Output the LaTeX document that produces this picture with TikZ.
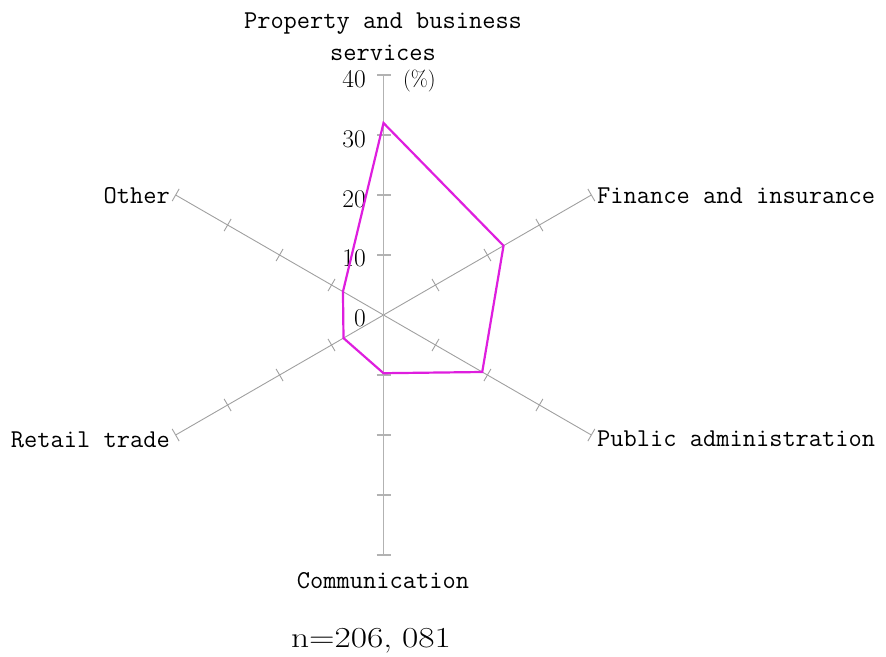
\documentclass[tikz,border=0pt]{standalone}
\usepackage{fontspec}
\setmainfont{Latin Modern Roman}
\newfontfamily\lblfont{Latin Modern Mono}
\newfontfamily\nfont[FakeStretch=1.22]{Latin Modern Roman}
\definecolor{series}{RGB}{222,30,222}
\definecolor{axisv}{RGB}{178,178,178}
\definecolor{axisd}{RGB}{160,160,160}
\begin{document}
\begin{tikzpicture}[x=1pt,y=-1pt,
  vaxis/.style={draw=axisv,line width=1.8pt},
  daxis/.style={draw=axisd,line width=0.9pt},
  tickmark/.style={draw=axisd,line width=0.9pt},
  lbl/.style={inner sep=0pt,font=\lblfont\fontsize{25.7}{30}\selectfont},
  ticklbl/.style={inner sep=0pt,anchor=base east,font=\fontsize{25.5}{29}\selectfont},
  serieslink/.style={draw=series,line width=2.2pt,line join=miter}]
\useasboundingbox (0,0) rectangle (886,656);
\coordinate (c) at (383.5,315);
% axis ends (angles in flipped y system)
\coordinate (aP) at ([shift={(c)}] -90:240);
\coordinate (aF) at ([shift={(c)}] -30:240);
\coordinate (aA) at ([shift={(c)}] 30:240);
\coordinate (aC) at ([shift={(c)}] 90:240);
\coordinate (aR) at ([shift={(c)}] 150:240);
\coordinate (aO) at ([shift={(c)}] -150:240);
% axes
\draw[daxis] (aF) -- (aR);
\draw[daxis] (aA) -- (aO);
\draw[vaxis] (aP) -- (aC);
% ticks
\foreach \a in {-90,90} {
  \foreach \k in {1,2,3,4} {
    \draw[tickmark,draw=axisv,line width=1.2pt] ([shift={(c)}] \a:\k*60) ++(\a+90:7) -- ++(\a-90:14);
  }
}
\foreach \a in {-30,30,150,-150} {
  \foreach \k in {1,2,3,4} {
    \draw[tickmark] ([shift={(c)}] \a:\k*60) ++(\a+90:7) -- ++(\a-90:14);
  }
}
% tick labels
\node[ticklbl] (t40) at (366,87) {40};
\node[ticklbl] (t30) at (366,147) {30};
\node[ticklbl] (t20) at (366,207) {20};
\node[ticklbl] (t10) at (366,266) {10};
\node[ticklbl] (t0) at (366,326) {0};
\node[inner sep=0pt,anchor=base west,font=\fontsize{22}{25}\selectfont] (pct) at (403,86) {(\%)};
% series
\coordinate (dP) at ([shift={(c)}] -90:192);
\coordinate (dF) at ([shift={(c)}] -30:138.6);
\coordinate (dA) at ([shift={(c)}] 30:114);
\coordinate (dC) at ([shift={(c)}] 90:58.2);
\coordinate (dR) at ([shift={(c)}] 150:46.2);
\coordinate (dO) at ([shift={(c)}] -150:46.8);
\draw[serieslink] (dP) -- (dF) -- (dA) -- (dC) -- (dR) -- (dO) -- cycle;
% category labels
\node[lbl,anchor=base] (lp1) at (383,28) {Property and business};
\node[lbl,anchor=base] (lp2) at (383,60) {services};
\node[lbl,anchor=base west] (lf) at (597,203) {Finance and insurance};
\node[lbl,anchor=base west] (la) at (597,446) {Public administration};
\node[lbl,anchor=base] (lc) at (383,588) {Communication};
\node[lbl,anchor=base east] (lr) at (170,447) {Retail trade};
\node[lbl,anchor=base east] (lo) at (170,203) {Other};
\node[inner sep=0pt,anchor=base,font=\nfont\fontsize{29}{33}\selectfont] (n) at (371,647) {n=206,\hspace{0.35em}081};
\end{tikzpicture}
\end{document}
